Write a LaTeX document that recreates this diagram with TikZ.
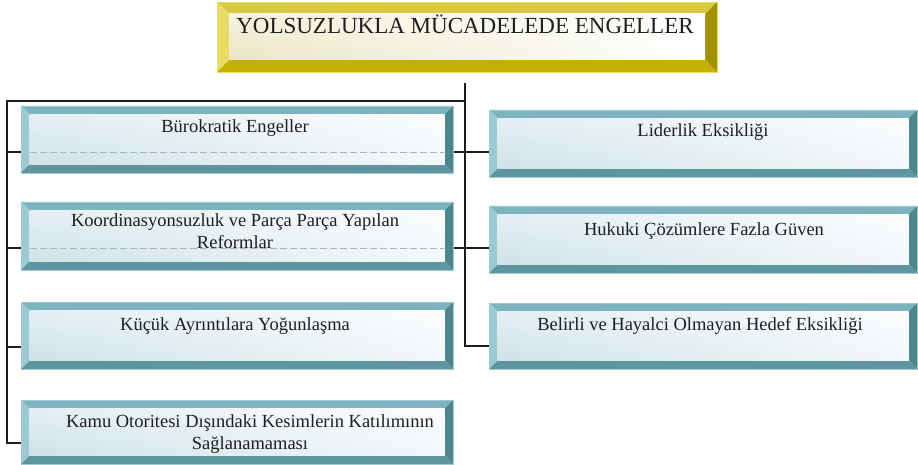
\documentclass[tikz,border=0pt]{standalone}
\usepackage{fontspec}
\setmainfont{Liberation Serif}
\usetikzlibrary{backgrounds,shadings}
\definecolor{tealT}{HTML}{7DB3BF}
\definecolor{tealL}{HTML}{9CCAD4}
\definecolor{tealR}{HTML}{4D868F}
\definecolor{tealB}{HTML}{5E959E}
\definecolor{tealIn1}{HTML}{E4EFF3}
\definecolor{tealIn2}{HTML}{FCFDFE}
\definecolor{tealIn3}{HTML}{CFE2E8}
\definecolor{tealIn4}{HTML}{F3F8FA}
\definecolor{yelT}{HTML}{D9C940}
\definecolor{yelL}{HTML}{E8DC66}
\definecolor{yelR}{HTML}{A39200}
\definecolor{yelB}{HTML}{C4B000}
\definecolor{yelIn1}{HTML}{F6F3DF}
\definecolor{yelIn3}{HTML}{EAE5C4}
\definecolor{lineC}{HTML}{1C1C1C}
\newcommand\bevelpic[6]{%
  \coordinate (pA) at (path picture bounding box.north west);
  \coordinate (pB) at (path picture bounding box.north east);
  \coordinate (pC) at (path picture bounding box.south east);
  \coordinate (pD) at (path picture bounding box.south west);
  \coordinate (qA) at ([shift={(#1,-#1)}]pA);
  \coordinate (qB) at ([shift={(-#1,-#1)}]pB);
  \coordinate (qC) at ([shift={(-#1,#1)}]pC);
  \coordinate (qD) at ([shift={(#1,#1)}]pD);
  \fill[#2] (pA)--(pB)--(qB)--(qA)--cycle;
  \fill[#3] (pA)--(qA)--(qD)--(pD)--cycle;
  \fill[#4] (pB)--(pC)--(qC)--(qB)--cycle;
  \fill[#5] (pD)--(qD)--(qC)--(pC)--cycle;
  \shade[#6] (qA) rectangle (qC);
}
\tikzset{
  tealbox/.style={rectangle, inner sep=0pt, draw=tealL, line width=0.4pt,
    path picture={\bevelpic{8.5pt}{tealT}{tealL}{tealR}{tealB}{upper left=tealIn1, upper right=tealIn2, lower left=tealIn3, lower right=tealIn4}}},
  lbox/.style={tealbox, minimum width=432pt},
  rbox/.style={tealbox, minimum width=428pt},
  titlebox/.style={rectangle, inner sep=0pt, draw=yelL, line width=0.4pt,
    path picture={\bevelpic{12pt}{yelT}{yelL}{yelR}{yelB}{upper left=yelIn1, upper right=white, lower left=yelIn3, lower right=white}}},
  btext/.style={inner sep=0pt, font=\fontsize{18.5}{21.5}\selectfont, text=black!88, align=center},
  titletext/.style={inner sep=0pt, font=\fontsize{23}{26}\selectfont, text=black!88},
  conn/.style={draw=lineC, line width=1.6pt},
  ghost/.style={draw=black!30, line width=0.5pt, dash pattern=on 7pt off 3pt}
}
\begin{document}
\begin{tikzpicture}[x=1pt,y=-1pt]
\useasboundingbox (0,0) rectangle (918,465);
% title
\node[titlebox, minimum width=500pt, minimum height=70pt] (title) at (467,37) {};
\node[titletext, anchor=base] (titlet) at (465,34) {YOLSUZLUKLA MÜCADELEDE ENGELLER};
% left boxes
\node[lbox, minimum height=67pt] (b1) at (237,139.5) {};
\node[lbox, minimum height=68pt] (b2) at (237,236) {};
\node[lbox, minimum height=67pt] (b3) at (237,335.5) {};
\node[lbox, minimum height=64pt] (b4) at (237,432) {};
% right boxes
\node[rbox, minimum height=67pt] (r1) at (703,143.5) {};
\node[rbox, minimum height=67pt] (r2) at (703,239.5) {};
\node[rbox, minimum height=66pt] (r3) at (703,336) {};
% texts
\node[btext, anchor=base] (b1t) at (235,133) {Bürokratik Engeller};
\node[btext] (b2t) at (235,231) {Koordinasyonsuzluk ve Parça Parça Yapılan\\Reformlar};
\node[btext, anchor=base] (b3t) at (235,330) {Küçük Ayrıntılara Yoğunlaşma};
\node[btext] (b4t) at (250,434) {Kamu Otoritesi Dışındaki Kesimlerin Katılımının\\Sağlanamaması};
\node[btext, anchor=base] (r1t) at (703,137) {Liderlik Eksikliği};
\node[btext, anchor=base] (r2t) at (704,235) {Hukuki Çözümlere Fazla Güven};
\node[btext, anchor=base] (r3t) at (700,330) {Belirli ve Hayalci Olmayan Hedef Eksikliği};
% connector points
\coordinate (cT) at (465,83);
\coordinate (cH) at (465,101);
\coordinate (c3) at (465,346);
\coordinate (lT) at (7,101);
\coordinate (l1) at (7,152);
\coordinate (l2) at (7,248);
\coordinate (l3) at (7,347);
\coordinate (l4) at (7,443);
\begin{scope}[on background layer]
\draw[conn] (cT) -- (c3) -- (c3 -| r3.west);
\draw[conn] (cH) -- (lT) -- (l4) -- (l4 -| b4.west);
\draw[conn] (l1) -- (l1 -| r1.west);
\draw[conn] (l2) -- (l2 -| r2.west);
\draw[conn] (l3) -- (l3 -| b3.west);
\end{scope}
\draw[ghost] ([xshift=9pt]l1 -| b1.west) -- ([xshift=-9pt]l1 -| b1.east);
\draw[ghost] ([xshift=9pt]l2 -| b2.west) -- ([xshift=-9pt]l2 -| b2.east);
\end{tikzpicture}
\end{document}
